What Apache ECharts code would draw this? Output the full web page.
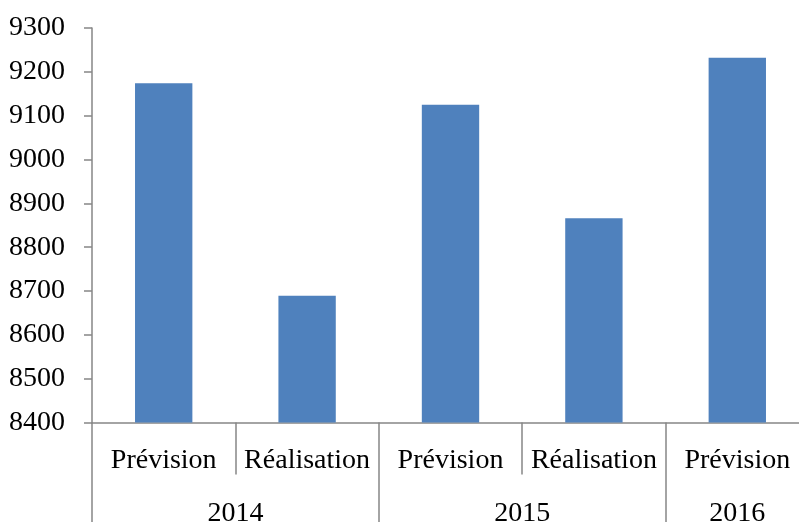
<!DOCTYPE html>
<html>
<head>
<meta charset="utf-8">
<script src="https://cdn.jsdelivr.net/npm/echarts@6/dist/echarts.min.js"></script>
<style>
  html, body { margin: 0; padding: 0; background: #ffffff; }
  #chart { width: 799px; height: 522px; }
</style>
</head>
<body>
<div id="chart"></div>
<script>
// Sub-categories (one bar each) and their values
const phases = ['Prévision', 'Réalisation', 'Prévision', 'Réalisation', 'Prévision'];
const values = [9174, 8689, 9125, 8866, 9232];

// Year groups on the lower row: a half-step axis (two points per bar slot)
const yearSlots = ['', '', '2014', '', '', '', '2015', '', '', '2016', ''];
const yearBoundaries = [0, 4, 8, 10];

// Value axis range
const yMin = 8400;
const yMax = 9300;
const yStep = 100;

const axisGrey = '#868686';
const fontFamily = '"Liberation Serif", "DejaVu Serif", serif';

const chart = echarts.init(document.getElementById('chart'));
chart.setOption({
  animation: false,
  grid: {
    left: 92, right: -10, top: 28, bottom: 99.5,
    containLabel: false,
    outerBoundsMode: 'none'
  },
  xAxis: [
    {
      type: 'category',
      data: phases,
      axisLine: { lineStyle: { color: axisGrey, width: 1.5 } },
      axisTick: { show: true, length: 52, lineStyle: { color: axisGrey, width: 1.5 } },
      axisLabel: { color: '#000', fontFamily: fontFamily, fontSize: 28, margin: 24, interval: 0 }
    },
    {
      type: 'category',
      position: 'bottom',
      data: yearSlots,
      boundaryGap: false,
      axisLine: { show: false },
      axisTick: {
        show: true,
        length: 100,
        interval: function (index) { return yearBoundaries.indexOf(index) >= 0; },
        lineStyle: { color: axisGrey, width: 1.5 }
      },
      axisLabel: { color: '#000', fontFamily: fontFamily, fontSize: 28, margin: 77, interval: 0 }
    }
  ],
  yAxis: {
    type: 'value',
    min: yMin,
    max: yMax,
    interval: yStep,
    splitLine: { show: false },
    axisLine: { show: true, lineStyle: { color: axisGrey, width: 1.5 } },
    axisTick: { show: true, length: 8, lineStyle: { color: axisGrey, width: 1.5 } },
    axisLabel: {
      color: '#000', fontFamily: fontFamily, fontSize: 28, margin: 27,
      formatter: function (v) { return String(v); }
    }
  },
  series: [{
    type: 'bar',
    xAxisIndex: 0,
    data: values,
    barWidth: '40%',
    itemStyle: { color: '#4f81bd' }
  }]
});
</script>
</body>
</html>
